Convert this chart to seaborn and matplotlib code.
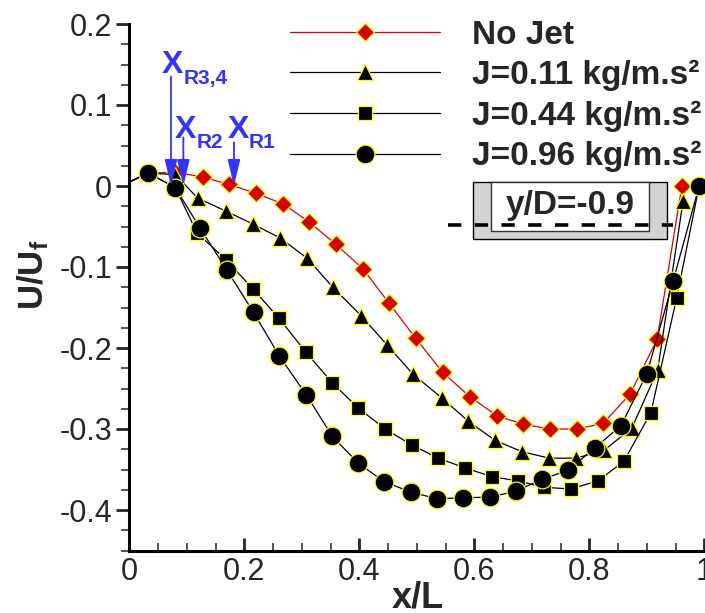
import numpy as np
import pandas as pd
import matplotlib
matplotlib.use("Agg")
import matplotlib.pyplot as plt
import seaborn as sns
from matplotlib.patches import Rectangle
from matplotlib.lines import Line2D
from matplotlib.ticker import MultipleLocator, FuncFormatter

# ---------------- data ----------------
labels = ["No Jet", "J=0.11 kg/m.s\u00b2", "J=0.44 kg/m.s\u00b2", "J=0.96 kg/m.s\u00b2"]

x_nojet = [0.0, 0.033, 0.080, 0.128, 0.173, 0.220, 0.267, 0.312, 0.359, 0.406, 0.451, 0.498,
           0.545, 0.592, 0.640, 0.685, 0.732, 0.779, 0.824, 0.871, 0.918, 0.961]
u_nojet = [0.005, 0.016, 0.017, 0.011, 0.002, -0.009, -0.022, -0.044, -0.072, -0.102, -0.144, -0.188,
           -0.230, -0.260, -0.284, -0.294, -0.300, -0.300, -0.293, -0.257, -0.189, 0.0]

x_j011 = [0.0, 0.033, 0.080, 0.119, 0.168, 0.215, 0.262, 0.309, 0.354, 0.403, 0.448, 0.493,
          0.544, 0.589, 0.636, 0.683, 0.730, 0.777, 0.826, 0.874, 0.919, 0.963]
u_j011 = [0.005, 0.016, 0.014, -0.015, -0.031, -0.047, -0.064, -0.089, -0.125, -0.160, -0.196, -0.232,
          -0.262, -0.290, -0.314, -0.328, -0.336, -0.336, -0.326, -0.299, -0.227, -0.019]

x_j044 = [0.0, 0.033, 0.080, 0.118, 0.168, 0.215, 0.260, 0.307, 0.353, 0.398, 0.445, 0.492,
          0.537, 0.584, 0.631, 0.676, 0.721, 0.768, 0.815, 0.860, 0.907, 0.952, 0.991]
u_j044 = [0.005, 0.016, -0.002, -0.058, -0.091, -0.127, -0.163, -0.205, -0.243, -0.274, -0.300, -0.320,
          -0.336, -0.348, -0.359, -0.364, -0.372, -0.374, -0.364, -0.340, -0.280, -0.138, 0.0]

x_j096 = [0.0, 0.033, 0.080, 0.123, 0.170, 0.216, 0.261, 0.308, 0.353, 0.398, 0.443, 0.490,
          0.535, 0.580, 0.627, 0.672, 0.718, 0.763, 0.810, 0.855, 0.900, 0.946, 0.991]
u_j096 = [0.005, 0.016, -0.002, -0.052, -0.104, -0.156, -0.210, -0.258, -0.309, -0.342, -0.365, -0.378,
          -0.386, -0.385, -0.384, -0.377, -0.362, -0.351, -0.323, -0.296, -0.232, -0.117, 0.0]

xr_labels = ["R3,4", "R2", "R1"]
xr_x = [0.0725, 0.094, 0.182]
xr_ystart = [0.135, 0.060, 0.054]
xr_ytip = [0.0, 0.0, 0.0]

x_ticks = [0, 0.2, 0.4, 0.6, 0.8, 1.0]
y_ticks = [-0.4, -0.3, -0.2, -0.1, 0.0, 0.1, 0.2]

# ---------------- style ----------------
sns.set_style("ticks")
plt.rcParams["font.family"] = ["Liberation Sans", "DejaVu Sans"]
plt.rcParams["mathtext.fontset"] = "custom"
plt.rcParams["mathtext.rm"] = "Liberation Sans"
plt.rcParams["mathtext.bf"] = "Liberation Sans:bold"
plt.rcParams["mathtext.it"] = "Liberation Sans:italic"
plt.rcParams["axes.unicode_minus"] = False

W, H = 705, 613
fig = plt.figure(figsize=(W / 100, H / 100), dpi=100)
ax = fig.add_axes([129.3 / W, 1 - 550.5 / H, 575 / W, 526.5 / H])

def fx(px):
    return px / W

def fy(py):
    return 1 - py / H

YEL = "#FFFF00"
RED = "#D40000"
common = dict(ax=ax, sort=False, estimator=None, markevery=slice(1, None), mec=YEL, mew=0.9)

sns.lineplot(x=x_nojet, y=u_nojet, color="#E00000", lw=0.9, marker="D", ms=8.7, mfc=RED,
             label=labels[0], **common)
sns.lineplot(x=x_j011, y=u_j011, color="black", lw=0.9, marker="^", ms=11, mfc="black",
             label=labels[1], **common)
sns.lineplot(x=x_j044, y=u_j044, color="black", lw=0.9, marker="s", ms=9.5, mfc="black",
             label=labels[2], **common)
sns.lineplot(x=x_j096, y=u_j096, color="black", lw=0.9, marker="o", ms=13.5, mfc="black",
             label=labels[3], **common)

ax.set_xlim(0, 1)
ax.set_ylim(-0.45, 0.2)
ax.set_xticks(x_ticks)
ax.set_yticks(y_ticks)
fmt = FuncFormatter(lambda v, p: "%g" % round(v, 3))
ax.xaxis.set_major_formatter(fmt)
ax.yaxis.set_major_formatter(fmt)
ax.xaxis.set_minor_locator(MultipleLocator(0.05))
ax.yaxis.set_minor_locator(MultipleLocator(0.025))

for s in ["top", "right"]:
    ax.spines[s].set_visible(False)
for s in ["left", "bottom"]:
    ax.spines[s].set_linewidth(2.2)
    ax.spines[s].set_color("black")

ax.tick_params(axis="y", which="major", direction="out", length=9.5, width=2, labelsize=22, pad=3)
ax.tick_params(axis="y", which="minor", direction="out", length=5.5, width=1.1)
ax.tick_params(axis="x", which="major", direction="in", length=9.5, width=2, labelsize=22, pad=5)
ax.tick_params(axis="x", which="minor", direction="in", length=6, width=1.1)
ax.set_xlabel("")
ax.set_ylabel("")

fig.text(fx(418), fy(608), "x/L", fontsize=26, fontweight="bold", ha="center", va="baseline")
fig.text(fx(33), fy(275), r"$\mathbf{U/U_f}$", fontsize=25, rotation=90, ha="center", va="center")

# legend
handles, _ = ax.get_legend_handles_labels()
leg = ax.legend(handles, labels, loc="upper left", bbox_to_anchor=(fx(290), fy(19.5)),
                bbox_transform=fig.transFigure, frameon=False, borderpad=0, borderaxespad=0,
                handlelength=4.5, handletextpad=0.95, labelspacing=0.28, numpoints=1,
                prop={"size": 24, "weight": "bold"})

# recirculation annotations
BLUE = "#3333FF"
for xx, y0, y1 in zip(xr_x, xr_ystart, xr_ytip):
    ax.annotate("", xy=(xx, y1), xytext=(xx, y0),
                arrowprops=dict(arrowstyle="-|>,head_length=1.6,head_width=0.38", color=BLUE,
                                lw=1.3, shrinkA=0, shrinkB=0, mutation_scale=10), zorder=6)

xr_pos = [(161.7, 73.3, 183.3, 84.3), (175, 138.3, 196.7, 148.3), (227.3, 138.3, 249, 148.3)]
for lab, (X0, B0, S0, SB) in zip(xr_labels, xr_pos):
    fig.text(fx(X0), fy(B0), "X", color=BLUE, fontsize=23, fontweight="bold", ha="left", va="baseline")
    fig.text(fx(S0), fy(SB), lab, color=BLUE, fontsize=15, fontweight="bold", ha="left", va="baseline")

# inset zone box
fig.patches.append(Rectangle((fx(473), fy(239)), fx(667) - fx(473), fy(182) - fy(239),
                             transform=fig.transFigure, facecolor="#D3D3D3", edgecolor="black",
                             lw=1.0, zorder=3))
fig.patches.append(Rectangle((fx(491), fy(231)), fx(649) - fx(491), fy(182) - fy(231),
                             transform=fig.transFigure, facecolor="white", edgecolor="#333333",
                             lw=1.0, zorder=3))
fig.text(fx(570), fy(214), "y/D=-0.9", fontsize=24, fontweight="bold", ha="center", va="baseline", zorder=4)
fig.lines.append(Line2D([fx(448), fx(673)], [fy(225), fy(225)], transform=fig.transFigure,
                        color="black", lw=2.6, linestyle=(0, (3.7, 3.7)), zorder=5))

fig.savefig("out.png", dpi=100)
